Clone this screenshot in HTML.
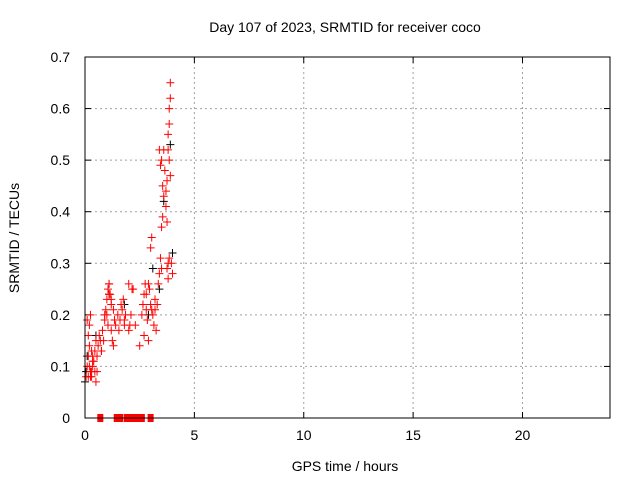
<!DOCTYPE html>
<html><head><meta charset="utf-8"><style>
body{margin:0;background:#fff;}
svg text{font-family:"Liberation Sans",sans-serif;font-size:14px;fill:#000;}
</style></head><body>
<svg width="640" height="480" xmlns="http://www.w3.org/2000/svg" id="chart">
<text x="345" y="32" text-anchor="middle">Day 107 of 2023, SRMTID for receiver coco</text>
<text x="345" y="471" text-anchor="middle">GPS time / hours</text>
<text transform="translate(19,238) rotate(-90)" text-anchor="middle">SRMTID / TECUs</text>
<g id="grid"></g><g id="ticks"></g><g id="pts"></g>
<rect x="85" y="57" width="525" height="361" fill="none" stroke="#000" stroke-width="1"/>
</svg>
<script>
const xTicks=[0,5,10,15,20];
const yTicks=[0,0.1,0.2,0.3,0.4,0.5,0.6,0.7];
const redHours=[
0.05,0.1,0.15,0.2,0.25,0.3,0.35,0.1,0.2,0.3,
0.25,0.15,0.4,0.45,0.5,0.55,0.6,0.65,0.7,0.75,
0.8,0.9,0.95,1.0,1.05,1.1,1.15,1.2,1.0,1.1,
0.9,1.05,1.2,1.25,1.3,1.35,1.3,1.4,1.5,1.55,
1.6,1.7,1.75,1.8,1.65,2.0,2.05,2.1,2.15,2.0,
2.5,2.6,2.65,2.7,2.75,2.8,2.85,2.7,2.8,2.9,
3.0,3.05,3.1,3.15,3.2,3.25,3.0,2.95,3.3,3.35,
3.4,3.45,3.5,3.5,3.55,3.6,3.55,3.45,3.4,3.5,
3.6,3.65,3.7,3.7,3.75,3.75,3.8,3.8,3.85,3.85,
3.9,3.9,3.95,4.0,3.8,3.85,3.75,3.8,3.85,3.9,
0.3,0.25,0.2,0.35,0.5,0.55,0.75,0.85,1.1,1.2,
1.8,1.85,2.2,2.3,2.9,3.05,3.2,0.15,0.35,0.45];
const redValues=[
0.08,0.1,0.12,0.14,0.09,0.08,0.11,0.19,0.18,0.13,
0.2,0.16,0.11,0.13,0.15,0.12,0.14,0.16,0.15,0.13,
0.17,0.19,0.21,0.23,0.25,0.26,0.24,0.22,0.2,0.26,
0.2,0.18,0.17,0.15,0.14,0.19,0.21,0.18,0.2,0.17,
0.19,0.21,0.23,0.18,0.22,0.17,0.18,0.2,0.25,0.26,
0.14,0.2,0.22,0.24,0.26,0.21,0.19,0.16,0.24,0.26,
0.22,0.35,0.2,0.18,0.21,0.17,0.33,0.25,0.22,0.26,
0.28,0.31,0.29,0.37,0.39,0.43,0.45,0.49,0.52,0.5,
0.52,0.48,0.44,0.41,0.38,0.46,0.52,0.55,0.57,0.6,
0.62,0.65,0.3,0.28,0.27,0.31,0.29,0.3,0.5,0.47,
0.09,0.08,0.1,0.12,0.07,0.09,0.13,0.15,0.24,0.23,
0.19,0.2,0.25,0.18,0.15,0.21,0.23,0.08,0.1,0.09];
const blackHours=[0.0,0.05,0.1,0.5,1.1,1.8,2.9,3.1,3.4,3.6,3.9,4.0];
const blackValues=[0.07,0.09,0.12,0.16,0.24,0.22,0.2,0.29,0.25,0.42,0.53,0.32];
const zeroHours=[0.7,1.45,1.5,1.6,1.9,2.0,2.1,2.2,2.3,2.4,2.5,2.6,3.0];
const X=h=>85+h*525/24, Y=v=>418-v*361/0.7;
const NS="http://www.w3.org/2000/svg";
const mk=(p,t,a)=>{const e=document.createElementNS(NS,t);for(const k in a)e.setAttribute(k,a[k]);document.getElementById(p).appendChild(e);return e;};
xTicks.forEach(t=>{const x=X(t);
 if(t>0){const g=mk('grid','line',{x1:x,x2:x,y1:57,y2:418,stroke:'#a0a0a0','stroke-dasharray':'2,3'});
 
 }
 mk('ticks','line',{x1:x,x2:x,y1:418,y2:412,stroke:'#000'});mk('ticks','line',{x1:x,x2:x,y1:57,y2:63,stroke:'#000'});
 const tx=mk('ticks','text',{x:x,y:440,'text-anchor':'middle'});tx.textContent=t;
 
 });
yTicks.forEach(t=>{const y=Y(t);
 if(t>0&&t<0.7){const g=mk('grid','line',{x1:85,x2:610,y1:y,y2:y,stroke:'#a0a0a0','stroke-dasharray':'2,3'});
 
 }
 mk('ticks','line',{x1:85,x2:91,y1:y,y2:y,stroke:'#000'});mk('ticks','line',{x1:610,x2:604,y1:y,y2:y,stroke:'#000'});
 const tx=mk('ticks','text',{x:70,y:y+5,'text-anchor':'end'});tx.textContent=t===0?'0':t.toFixed(1);
 
 });
function plus(h,v,c,name){const x=X(h),y=Y(v);
 const p=mk('pts','path',{d:`M${x-4},${y}h8M${x},${y-4}v8`,stroke:c,'stroke-width':1});
 
 }
blackHours.forEach((h,i)=>plus(h,blackValues[i],'#000','black-point'));
redHours.forEach((h,i)=>plus(h,redValues[i],'#f00','red-point'));
zeroHours.forEach(h=>{const r=mk('pts','rect',{x:X(h)-3,y:414,width:6,height:8,fill:'#f00'});
 
 });
</script>
</body></html>
